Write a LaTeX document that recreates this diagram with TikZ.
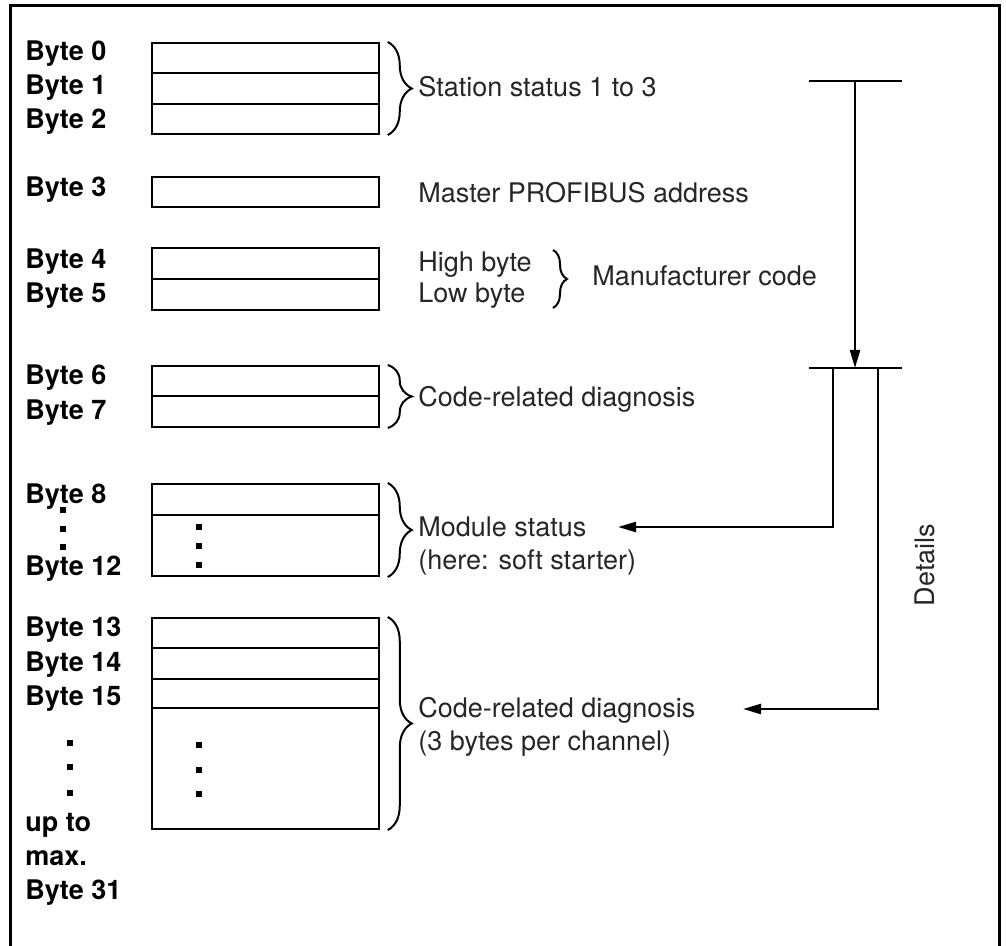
\documentclass[tikz,border=0pt]{standalone}
\usepackage{fontspec}
\setmainfont{TeX Gyre Heros}
\usetikzlibrary{arrows.meta, decorations.pathreplacing}

\begin{document}
\begin{tikzpicture}[
    x=0.5pt, y=-0.5pt,
    byterow/.style={rectangle, draw=black, line width=1pt, minimum width=113.5pt, inner sep=0pt},
    bytelabel/.style={anchor=base west, inner sep=0pt, font=\bfseries\fontsize{13.5}{16}\selectfont},
    desc/.style={anchor=base west, inner sep=0pt, text=black!85, font=\fontsize{13.5}{16}\selectfont},
    grp/.style={decorate, decoration={brace, amplitude=12pt}, line width=1pt},
    feed/.style={line width=1.2pt},
    pointer/.style={feed, -{Triangle[length=9pt, width=5pt]}},
]

% ---- Layout ----
\def\xbox{265.75}
\def\xlab{25}
\def\xdesc{418}

% ---- Frame ----
\path[use as bounding box] (0,0) rectangle (1006,946);
\draw[line width=1.5pt] (10,946) -- (10,6) -- (999,6) -- (999,946);

% ---- Byte rows ----
\foreach \n/\y/\h in {r0/58.2/15.17, r1/88.5/15.17, r2/118.8/15.17, r3/192/15,
                      r4/263.5/15.5, r5/294.5/15.5, r6/381.25/15.25, r7/411.75/15.25,
                      r8/499.5/15.5, r9/545.5/30.5,
                      r13/633/15, r14/663.5/15.5, r15/693.5/14.5, r16/768.5/60.5} {
    \node[byterow, minimum height=\h pt] (\n) at (\xbox,\y) {};
}

% ---- Byte labels ----
\foreach \n/\y/\t in {l0/61/Byte 0, l1/95/Byte 1, l2/129/Byte 2, l3/197/Byte 3,
                      l4/269/Byte 4, l5/303/Byte 5, l6/385/Byte 6, l7/419/Byte 7,
                      l8/503/Byte 8, l12/575/Byte 12,
                      l13/636/Byte 13, l14/671/Byte 14, l15/705/Byte 15,
                      lup/831/up to, lmax/865/max., l31/899/Byte 31} {
    \node[bytelabel] (\n) at (\xlab,\y) {\t};
}

% ---- Dots ----
\foreach \x/\y in {63/510, 63/529, 63/547, 199/527, 199/546, 199/565,
                   70/743, 70/767, 70/793, 199/745, 199/770, 199/794} {
    \fill (\x-3,\y-3) rectangle (\x+3,\y+3);
}

% ---- Braces ----
\draw[grp] ([xshift=3.75pt]r0.north east) -- ([xshift=3.75pt]r2.south east);
\draw[grp] ([xshift=3.75pt]r6.north east) -- ([xshift=3.75pt]r7.south east);
\draw[grp] ([xshift=3.75pt]r8.north east) -- ([xshift=3.75pt]r9.south east);
\draw[grp] ([xshift=3.75pt]r13.north east) -- ([xshift=3.75pt]r16.south east);
\draw[grp, decoration={amplitude=7pt}] (553,250) -- (553,308);

% ---- Descriptions ----
\node[desc] (station) at (\xdesc,97) {Station status 1 to 3};
\node[desc] (master) at (\xdesc,203) {Master PROFIBUS address};
\node[desc] (high) at (\xdesc,272) {High byte};
\node[desc] (low) at (\xdesc,303) {Low byte};
\node[desc] (manuf) at (592,286) {Manufacturer code};
\node[desc] (code) at (\xdesc,407) {Code-related diagnosis};
\node[desc] (module) at (\xdesc,536) {Module status};
\node[desc] (starter) at (\xdesc,569) {(here: soft starter)};
\node[desc] (chancode) at (\xdesc,717) {Code-related diagnosis};
\node[desc] (perchan) at (\xdesc,750) {(3 bytes per channel)};
\node[desc, anchor=center, rotate=90] (details) at (925,565) {Details};

% ---- Details lines ----
\coordinate (ta) at (809,81);
\coordinate (tb) at (902,81);
\coordinate (tm) at (855,81);
\coordinate (ba) at (809,368);
\coordinate (bb) at (902,368);
\coordinate (bm) at (855,368);
\coordinate (b1) at (833,368);
\coordinate (b2) at (878,368);
\coordinate (modtip) at (618,527);
\coordinate (chantip) at (743,709);

\draw[feed] (ta) -- (tb);
\draw[feed] (ba) -- (bb);
\draw[pointer] (tm) -- (bm);
\draw[pointer] (b1) |- (modtip);
\draw[pointer] (b2) |- (chantip);

\end{tikzpicture}
\end{document}
